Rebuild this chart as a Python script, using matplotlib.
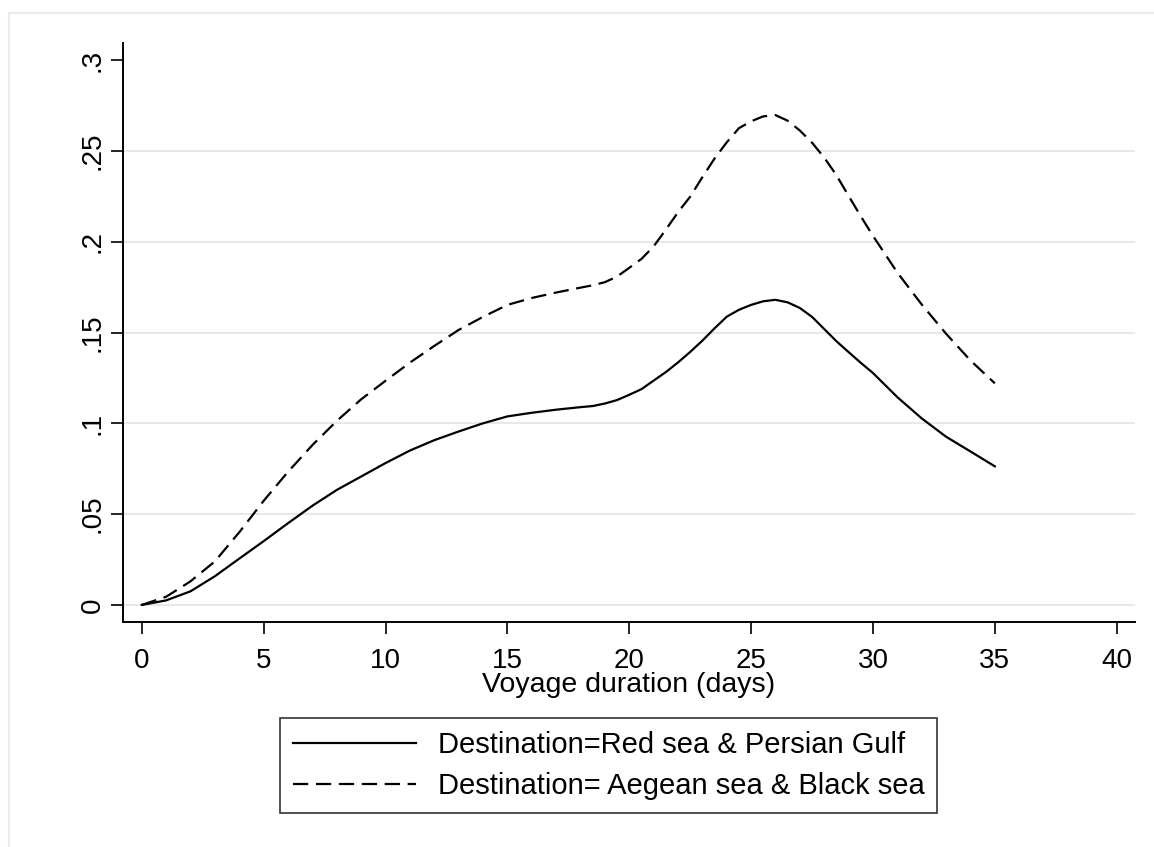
import numpy as np
import matplotlib.pyplot as plt
from matplotlib.lines import Line2D

plt.rcParams['font.family'] = ['Liberation Sans', 'DejaVu Sans']
plt.rcParams['lines.scale_dashes'] = False

# Voyage duration (days); finer steps around the peak
days = [0, 1, 2, 3, 4, 5, 6, 7, 8, 9, 10, 11, 12, 13, 14, 15, 16, 17, 18,
        18.5, 19, 19.5, 20, 20.5, 21, 21.5, 22, 22.5, 23, 23.5, 24, 24.5,
        25, 25.5, 26, 26.5, 27, 27.5, 28, 28.5, 29, 29.5, 30,
        31, 32, 33, 34, 35]

# Destination = Red sea & Persian Gulf
red_sea = [0.0000, 0.0025, 0.0075, 0.0158, 0.0255, 0.0351, 0.0450, 0.0546,
           0.0633, 0.0707, 0.0781, 0.0850, 0.0907, 0.0955, 0.1000, 0.1038,
           0.1058, 0.1075, 0.1089,
           0.1095, 0.1109, 0.1128, 0.1157, 0.1188, 0.1235, 0.1282, 0.1335,
           0.1393, 0.1455, 0.1523, 0.1587, 0.1625, 0.1652, 0.1672, 0.1680,
           0.1666, 0.1635, 0.1586, 0.1519, 0.1452, 0.1392, 0.1333, 0.1277,
           0.1144, 0.1027, 0.0926, 0.0845, 0.0763]

# Destination = Aegean sea & Black sea
aegean_sea = [0.0000, 0.0045, 0.0130, 0.0240, 0.0400, 0.0573, 0.0733, 0.0880,
              0.1013, 0.1132, 0.1234, 0.1334, 0.1426, 0.1514, 0.1586, 0.1652,
              0.1690, 0.1720, 0.1747,
              0.1760, 0.1777, 0.1808, 0.1856, 0.1905, 0.1974, 0.2066, 0.2162,
              0.2248, 0.2355, 0.2458, 0.2547, 0.2625, 0.2663, 0.2690, 0.2697,
              0.2666, 0.2612, 0.2545, 0.2463, 0.2366, 0.2252, 0.2140, 0.2032,
              0.1830, 0.1654, 0.1493, 0.1346, 0.1220]

labels = ["Destination=Red sea & Persian Gulf",
          "Destination= Aegean sea & Black sea"]

x_ticks = [0, 5, 10, 15, 20, 25, 30, 35, 40]
y_ticks = [0, 0.05, 0.1, 0.15, 0.2, 0.25, 0.3]
y_tick_labels = ["0", ".05", ".1", ".15", ".2", ".25", ".3"]

W, H = 1154, 847
fig = plt.figure(figsize=(W / 100, H / 100), dpi=100)
ax = fig.add_axes([123 / W, 1 - 622 / H, (1135 - 123) / W, (622 - 43) / H])

# faint frame around the graph region
fig.add_artist(Line2D([9 / W, 1], [1 - 13 / H, 1 - 13 / H], color='#ebebeb', lw=1.6))
fig.add_artist(Line2D([9 / W, 9 / W], [0, 1 - 13 / H], color='#ebebeb', lw=1.6))

for yt in y_ticks[:-1]:
    ax.axhline(yt, color='#e8e8e8', lw=1.4, zorder=0)

dash = (11, 5.5)
ax.plot(days, red_sea, color='black', lw=1.6)
ax.plot(days, aegean_sea, color='black', lw=1.6, dashes=dash)

ax.set_xlim(-0.77, 40.75)
ax.set_ylim(-0.0094, 0.3094)
ax.set_xticks(x_ticks)
ax.set_yticks(y_ticks)
ax.set_yticklabels(y_tick_labels, rotation=90, va='center')

for side in ['top', 'right']:
    ax.spines[side].set_visible(False)
for side in ['left', 'bottom']:
    ax.spines[side].set_linewidth(1.4)

ax.tick_params(axis='both', direction='out', length=8.5, width=1.2, labelsize=20)
ax.tick_params(axis='x', pad=10)
ax.tick_params(axis='y', pad=4)

ax.set_xlabel("Voyage duration (days)", fontsize=20.5, va='top')
ax.xaxis.set_label_coords(0.5, -0.087)

handles = [Line2D([], [], color='black', lw=1.6),
           Line2D([], [], color='black', lw=1.6, dashes=dash)]
leg = fig.legend(handles, labels, loc='upper left',
                 bbox_to_anchor=(280 / W, 1 - 718 / H),
                 fontsize=21, frameon=True, fancybox=False, handlelength=4.2,
                 handletextpad=0.75, borderpad=0.45, labelspacing=0.45,
                 borderaxespad=0)
leg.get_frame().set_edgecolor('black')
leg.get_frame().set_linewidth(1.2)

fig.savefig('out.png', dpi=100)
